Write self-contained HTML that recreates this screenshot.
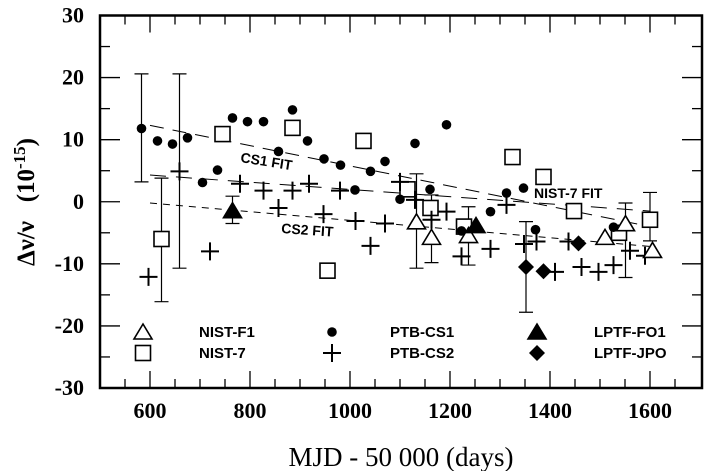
<!DOCTYPE html>
<html><head><meta charset="utf-8"><style>
body{margin:0;background:#fff;}
svg{display:block;}
</style></head><body>
<svg id="chart" width="722" height="471" viewBox="0 0 722 471" xmlns="http://www.w3.org/2000/svg">
<g id="g"></g>
</svg>
<script>
const xTicks=[600,800,1000,1200,1400,1600];
const yTicks=[-30,-20,-10,0,10,20,30];
const cs1X=[583,615,645,675,705,735,765,795,827,857,885,915,948,981,1010,1041,1070,1100,1130,1160,1193,1223,1281,1313,1347,1371,1527];
const cs1Y=[11.8,9.8,9.3,10.3,3.1,5.1,13.5,12.9,12.9,8.1,14.8,9.8,6.9,5.9,1.9,4.9,6.5,0.4,9.4,2.0,12.4,-4.7,-1.6,1.4,2.2,-4.5,-4.1];
const cs2X=[597,659,720,780,827,857,885,918,947,980,1011,1041,1070,1100,1130,1163,1193,1223,1281,1313,1348,1373,1410,1437,1463,1497,1527,1560,1590];
const cs2Y=[-12.1,4.9,-8.0,2.9,1.8,-1.0,1.8,2.9,-2.0,1.8,-3.1,-7.1,-3.5,3.2,0.3,-2.9,-1.6,-8.8,-7.6,-0.5,-6.8,-6.4,-11.3,-6.4,-10.5,-11.3,-10.2,-7.9,-8.7];
const n7X=[623,745,885,955,1027,1115,1161,1228,1325,1387,1448,1538,1600];
const n7Y=[-6.0,10.9,11.9,-11.1,9.8,2.0,-1.0,-4.0,7.2,4.0,-1.5,-5.0,-2.9];
const f1X=[1133,1163,1237,1510,1551,1605];
const f1Y=[-3.4,-5.9,-5.6,-5.9,-3.7,-8.0];
const fo1X=[765,1252];
const fo1Y=[-1.6,-4.0];
const jpoX=[1352,1387,1457];
const jpoY=[-10.5,-11.2,-6.7];
const errX=[583,623,659,765,1133,1163,1237,1352,1551,1600];
const errLo=[3.2,-16.1,-10.7,-3.5,-10.7,-9.8,-10.2,-17.8,-12.2,-6.3];
const errHi=[20.6,3.8,20.6,0.9,4.5,1.1,-0.8,-3.2,-0.2,1.5];
const fitCS1=[12.3,-4.0];
const fitNIST7=[4.3,-1.5];
const fitCS2=[-0.2,-7.2];

const L=100,R=702,T=15.5,B=388;
const sx=v=>L+(v-500)*0.5;
const sy=v=>T+(30-v)*(B-T)/60;
const NS="http://www.w3.org/2000/svg";
const g=document.getElementById('g');
function mk(tag,at,parent){const e=document.createElementNS(NS,tag);for(const k in at)e.setAttribute(k,at[k]);(parent||g).appendChild(e);return e;}

let fr=mk('rect',{x:L,y:T,width:R-L,height:B-T,fill:'none',stroke:'#000','stroke-width':2.5});


for(let v=550;v<=1650;v+=50){
  const major=v%200===0;const len=major?17:9;
  let t=mk('line',{x1:sx(v),x2:sx(v),y1:B,y2:B-len,stroke:'#000','stroke-width':1.3});
  
  
  let t2=mk('line',{x1:sx(v),x2:sx(v),y1:T,y2:T+len,stroke:'#000','stroke-width':1.3});
  
  
}
xTicks.forEach(v=>{
  let t=mk('text',{x:sx(v),y:418,'text-anchor':'middle','font-family':'Liberation Serif, serif','font-size':22,'font-weight':'bold'});
  t.textContent=v;
  
  
});
for(let v=-25;v<=25;v+=5){
  const major=v%10===0;const len=major?20:10;
  let t=mk('line',{x1:L,x2:L+len,y1:sy(v),y2:sy(v),stroke:'#000','stroke-width':1.3});
  
  
  let t2=mk('line',{x1:R,x2:R-len,y1:sy(v),y2:sy(v),stroke:'#000','stroke-width':1.3});
  
  
}
yTicks.forEach(v=>{
  let t=mk('text',{x:84,y:sy(v)+7,'text-anchor':'end','font-family':'Liberation Serif, serif','font-size':22,'font-weight':'bold'});
  t.textContent=v;
  
  
});
function fit(arr,name,dash){
  let l=mk('line',{x1:sx(600),y1:sy(arr[0]),x2:sx(1600),y2:sy(arr[1]),stroke:'#000','stroke-width':1,'stroke-dasharray':dash});
  
  
}
fit(fitCS1,'cs1-fit-line','14,9');
fit(fitNIST7,'nist7-fit-line','16,10');
fit(fitCS2,'cs2-fit-line','7,6');
errX.forEach((x,i)=>{
  const X=sx(x);
  let e=mk('path',{d:`M${X},${sy(errLo[i])}V${sy(errHi[i])}M${X-7},${sy(errLo[i])}h14M${X-7},${sy(errHi[i])}h14`,stroke:'#000','stroke-width':1.2,fill:'none'});
  
  
});
function dot(X,Y){return mk('circle',{cx:X,cy:Y,r:4.8,fill:'#000'});}
function cross(X,Y){return mk('path',{d:`M${X-9},${Y}h18M${X},${Y-9}v18`,stroke:'#000','stroke-width':2,fill:'none'});}
function sq(X,Y){return mk('rect',{x:X-7.5,y:Y-7.5,width:15,height:15,fill:'#fff',stroke:'#000','stroke-width':1.6});}
function tri(X,Y,f){return mk('path',{d:`M${X},${Y-9}L${X+9},${Y+6}L${X-9},${Y+6}Z`,fill:f?'#000':'#fff',stroke:'#000','stroke-width':1.6});}
function dia(X,Y){return mk('path',{d:`M${X},${Y-8}L${X+8},${Y}L${X},${Y+8}L${X-8},${Y}Z`,fill:'#000'});}
n7X.forEach((x,i)=>{let m=sq(sx(x),sy(n7Y[i]));});
cs1X.forEach((x,i)=>{let m=dot(sx(x),sy(cs1Y[i]));});
cs2X.forEach((x,i)=>{let m=cross(sx(x),sy(cs2Y[i]));});
f1X.forEach((x,i)=>{let m=tri(sx(x),sy(f1Y[i]),false);});
fo1X.forEach((x,i)=>{let m=tri(sx(x),sy(fo1Y[i]),true);});
jpoX.forEach((x,i)=>{let m=dia(sx(x),sy(jpoY[i]));});
function lab(txt,x,y,rot,name){
  let t=mk('text',{x:x,y:y,'font-family':'Liberation Sans, sans-serif','font-size':14,'font-weight':'bold',transform:`rotate(${rot} ${x} ${y})`});
  t.textContent=txt;
  
  
}
lab('CS1 FIT',240,162,9,'cs1-fit-label');
lab('CS2 FIT',281,233,4,'cs2-fit-label');
lab('NIST-7 FIT',534,198,0,'nist7-fit-label');
const legY=[332,353];
function legText(t,x,y,name){let e=mk('text',{x:x,y:y+5,'font-family':'Liberation Sans, sans-serif','font-size':15,'font-weight':'bold'});e.textContent=t;}
let m;
m=tri(143,legY[0]+1,false);
legText('NIST-F1',199,legY[0],'legend-nist-f1');
m=sq(143,legY[1]);
legText('NIST-7',199,legY[1],'legend-nist7');
m=dot(332,legY[0]);
legText('PTB-CS1',390,legY[0],'legend-ptb-cs1');
m=cross(332,legY[1]);
legText('PTB-CS2',390,legY[1],'legend-ptb-cs2');
m=tri(537,legY[0]+1,true);
legText('LPTF-FO1',594,legY[0],'legend-lptf-fo1');
m=dia(537,legY[1]);
legText('LPTF-JPO',594,legY[1],'legend-lptf-jpo');
let xt=mk('text',{x:401,y:466,'text-anchor':'middle','font-family':'Liberation Serif, serif','font-size':27});
xt.textContent='MJD - 50 000 (days)';


let yt=mk('text',{x:0,y:0,'text-anchor':'middle','font-family':'Liberation Serif, serif','font-size':25,'font-weight':'bold',transform:'translate(34,202) rotate(-90)'});
yt.innerHTML='Δν/ν\u00a0\u00a0\u00a0(10<tspan dy="-9" font-size="17">-15</tspan><tspan dy="9">)</tspan>';


</script>
</body></html>
